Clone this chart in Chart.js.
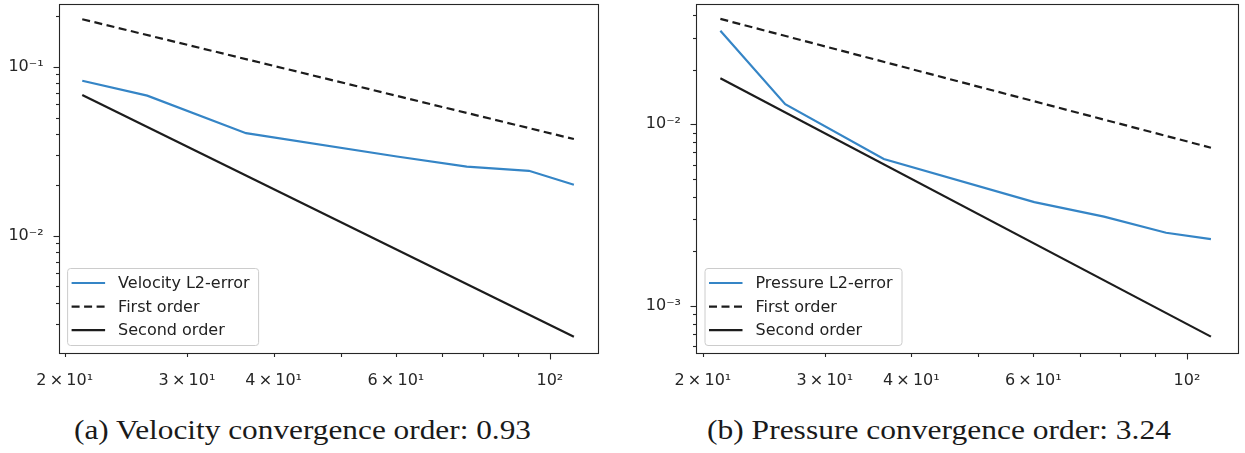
<!DOCTYPE html>
<html><head><meta charset="utf-8">
<script src="https://cdn.jsdelivr.net/npm/chart.js@4.4.0/dist/chart.umd.min.js"></script>
<style>
html,body{margin:0;padding:0;background:#fff;}
body{width:1245px;height:453px;position:relative;overflow:hidden;}
.wrap{position:absolute;top:0;height:400px;}
.cap{position:absolute;top:416px;font-family:'Liberation Serif',serif;font-size:28px;line-height:28px;color:#1a1a1a;white-space:nowrap;transform-origin:left top;}
</style></head><body>
<div class="wrap" style="left:0;width:620px"><canvas id="c1"></canvas></div>
<div class="wrap" style="left:620px;width:625px"><canvas id="c2"></canvas></div>
<div class="cap" id="cap1">(a) Velocity convergence order: 0.93</div>
<div class="cap" id="cap2">(b) Pressure convergence order: 3.24</div>
<script>
// ---- data ----
const meshSizes      = [21.2, 26.3, 36.5, 60.2, 75.9, 93.3, 108.3];
const velocityError  = [0.0826, 0.0674, 0.0404, 0.0294, 0.0256, 0.0242, 0.0200];
const pressureError  = [0.0327, 0.0129, 0.00644, 0.00373, 0.00310, 0.00253, 0.00233];
const refX           = [21.2, 108.3];
const velFirstOrder  = [0.191, 0.0373];
const velSecondOrder = [0.068, 0.00252];
const presFirstOrder = [0.038, 0.00743];
const presSecondOrder= [0.0179, 0.000678];

const xTickValues = [20, 30, 40, 50, 60, 70, 80, 90, 100];
const xTickLabels = {'20':'2\u2009×\u200910¹','30':'3\u2009×\u200910¹','40':'4\u2009×\u200910¹','60':'6\u2009×\u200910¹','100':'10²'};
const xMajor = [100];
const velYTicks = [0.003,0.004,0.005,0.006,0.007,0.008,0.009,0.01,0.02,0.03,0.04,0.05,0.06,0.07,0.08,0.09,0.1,0.2];
const velYLabels = {'0.01':'10⁻²','0.1':'10⁻¹'};
const velYMajor = [0.01, 0.1];
const presYTicks = [0.0006,0.0007,0.0008,0.0009,0.001,0.002,0.003,0.004,0.005,0.006,0.007,0.008,0.009,0.01,0.02,0.03,0.04];
const presYLabels = {'0.001':'10⁻³','0.01':'10⁻²'};
const presYMajor = [0.001, 0.01];

const BLUE = '#3585c6', BLACK = '#1c1c1c', AXIS = '#262626';
const TICKFONT = {family:'DejaVu Sans', size:16};

const decor = {
  id:'decor',
  afterDatasetsDraw(chart, args, o) {
    const {ctx, chartArea:a, scales:{x, y}} = chart;
    ctx.save();
    ctx.strokeStyle = AXIS; ctx.lineWidth = 1.1;
    ctx.strokeRect(Math.round(a.left)+0.5, Math.round(a.top)+0.5, Math.round(a.right-a.left), Math.round(a.bottom-a.top));
    const b = Math.round(a.bottom)+0.5, l = Math.round(a.left)+0.5;
    o.xTicks.forEach(v => {
      const px = Math.round(x.getPixelForValue(v))+0.5;
      const len = o.xMajor.includes(v) ? 6 : 3.5;
      ctx.beginPath(); ctx.moveTo(px, b); ctx.lineTo(px, b+len); ctx.stroke();
    });
    o.yTicks.forEach(v => {
      const py = Math.round(y.getPixelForValue(v))+0.5;
      const len = o.yMajor.includes(v) ? 6 : 3.5;
      ctx.beginPath(); ctx.moveTo(l, py); ctx.lineTo(l-len, py); ctx.stroke();
    });
    // legend (lower left)
    const bx = a.left + 8.5, bw = o.legendWidth, bh = 77, by = a.bottom - 8 - bh;
    ctx.fillStyle = 'rgba(255,255,255,0.85)';
    ctx.strokeStyle = '#cccccc'; ctx.lineWidth = 1;
    ctx.beginPath();
    if (ctx.roundRect) ctx.roundRect(bx+0.5, by+0.5, bw, bh, 3); else ctx.rect(bx+0.5, by+0.5, bw, bh);
    ctx.fill(); ctx.stroke();
    ctx.font = '16px "DejaVu Sans"'; ctx.textBaseline = 'middle'; ctx.fillStyle = '#222';
    chart.data.datasets.forEach((ds, i) => {
      const cy = by + 15 + i*23.6;
      ctx.strokeStyle = ds.borderColor; ctx.lineWidth = ds.borderWidth;
      ctx.setLineDash(ds.borderDash || []);
      ctx.beginPath(); ctx.moveTo(bx+4.5, cy); ctx.lineTo(bx+38, cy); ctx.stroke();
      ctx.setLineDash([]);
      ctx.fillText(ds.label, bx + 51, cy+1);
    });
    ctx.restore();
  }
};

function pts(xs, ys){ return xs.map((v,i)=>({x:v, y:ys[i]})); }

function makeChart(id, c) {
  return new Chart(document.getElementById(id), {
    type:'line',
    data:{datasets:[
      {label:c.name, data:pts(meshSizes, c.err), borderColor:BLUE, borderWidth:2.2},
      {label:'First order', data:pts(refX, c.first), borderColor:BLACK, borderWidth:2.2, borderDash:[8,4.5]},
      {label:'Second order', data:pts(refX, c.second), borderColor:BLACK, borderWidth:2.2}
    ]},
    options:{
      responsive:false, animation:false, devicePixelRatio:1,
      elements:{point:{radius:0, hoverRadius:0}, line:{tension:0, borderCapStyle:'butt'}},
      layout:{padding:{left:0, right:c.padRight, top:4, bottom:0}},
      plugins:{legend:{display:false}, tooltip:{enabled:false}, decor:{xTicks:xTickValues, xMajor:xMajor, yTicks:c.yTicks, yMajor:c.yMajor, legendWidth:c.legendWidth}},
      events:[],
      scales:{
        x:{type:'logarithmic', bounds:'data', min:c.xmin, max:c.xmax,
           grid:{display:false}, border:{display:false},
           ticks:{autoSkip:false, maxRotation:0, padding:10, font:TICKFONT, color:AXIS,
                  callback:(v)=> xTickLabels[String(v)] || ''},
           afterBuildTicks:(s)=>{ s.ticks = xTickValues.map(v=>({value:v})); },
           afterFit:(s)=>{ s.height = 47; s.paddingLeft=0; s.paddingRight=0; s.paddingTop=0; s.paddingBottom=0; }},
        y:{type:'logarithmic', bounds:'data', min:c.ymin, max:c.ymax,
           grid:{display:false}, border:{display:false},
           ticks:{autoSkip:false, padding:7, font:TICKFONT, color:AXIS,
                  callback:(v)=> c.yLabels[String(v)] || ''},
           afterBuildTicks:(s)=>{ s.ticks = c.yTicks.map(v=>({value:v})); },
           afterFit:(s)=>{ s.width = c.axisLeft; s.paddingLeft=0; s.paddingRight=0; s.paddingTop=0; s.paddingBottom=0; }}
      }
    },
    plugins:[decor]
  });
}

const cv1 = document.getElementById('c1'); cv1.width = 620; cv1.height = 400;
const cv2 = document.getElementById('c2'); cv2.width = 625; cv2.height = 400;

makeChart('c1', {name:'Velocity L2-error', err:velocityError, first:velFirstOrder, second:velSecondOrder,
  yTicks:velYTicks, yLabels:velYLabels, yMajor:velYMajor, xmin:19.6, xmax:117.2, ymin:0.00202, ymax:0.235,
  axisLeft:58.6, padRight:620-597.7, legendWidth:191});
makeChart('c2', {name:'Pressure L2-error', err:pressureError, first:presFirstOrder, second:presSecondOrder,
  yTicks:presYTicks, yLabels:presYLabels, yMajor:presYMajor, xmin:19.55, xmax:118.5, ymin:0.000551, ymax:0.0459,
  axisLeft:76, padRight:625-618, legendWidth:197});

function fitCap(id, center, width){
  const el = document.getElementById(id);
  const w = el.getBoundingClientRect().width;
  const s = width / w;
  el.style.left = (center - width/2) + 'px';
  el.style.transform = 'scaleX(' + s + ')';
}
fitCap('cap1', 302, 457);
fitCap('cap2', 939, 464);
</script>
</body></html>
